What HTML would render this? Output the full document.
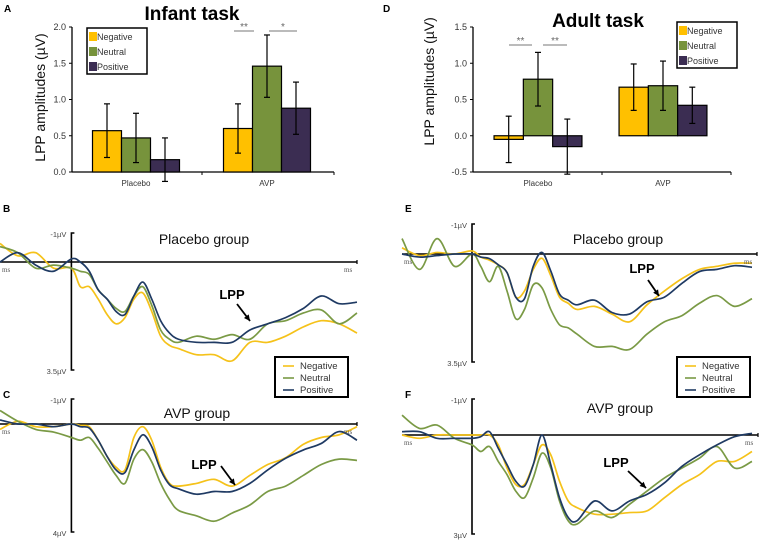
<!DOCTYPE html>
<html><head><meta charset="utf-8"><style>
body{margin:0;background:#fff;}
svg{display:block;font-family:"Liberation Sans",sans-serif;}
</style></head><body>
<svg id="fig" width="760" height="544" viewBox="0 0 760 544" xmlns="http://www.w3.org/2000/svg">
<g id="root"></g>
</svg>
<script>
// ---- Bar chart data ----
const barCategories = ["Placebo", "AVP"];
const seriesNames = ["Negative", "Neutral", "Positive"];
const infantMeans = [[0.57, 0.47, 0.17], [0.60, 1.46, 0.88]];
const infantErrors = [[0.37, 0.34, 0.30], [0.34, 0.43, 0.36]];
const adultMeans = [[-0.05, 0.78, -0.15], [0.67, 0.69, 0.42]];
const adultErrors = [[0.32, 0.37, 0.38], [0.32, 0.34, 0.25]];
const infantTicks = [0.0, 0.5, 1.0, 1.5, 2.0];
const adultTicks = [-0.5, 0.0, 0.5, 1.0, 1.5];
// ---- ERP waveform data (µV, positive plotted downward) ----
const erpTimes = [-200,-150,-100,-50,0,25,50,75,100,125,150,175,200,225,250,275,300,350,400,450,500,550,600,650,700,750,800];
const bNegative = [-0.6,-0.2,-0.3,0.2,0.2,0.8,0.8,1.2,1.7,2.0,1.8,1.2,1.0,1.6,2.4,2.7,2.8,3.0,3.0,3.2,2.6,2.6,2.4,2.1,1.9,2.0,2.3];
const bNeutral = [-0.5,-0.3,0.2,0.1,0.2,0.3,0.4,0.9,1.2,1.5,1.6,1.1,0.8,1.4,2.2,2.5,2.6,2.4,2.5,2.35,2.5,2.0,1.9,1.65,1.55,2.0,1.65];
const bPositive = [0,-0.3,0.1,0.3,-0.1,0,0.3,0.9,1.2,1.6,1.7,1.1,0.65,1.2,1.9,2.3,2.5,2.6,2.6,2.6,2.2,2.0,1.8,1.5,1.1,1.35,1.3];
const cNegative = [0.2,-0.1,0.1,0.1,0,0.05,0.1,0.6,1.2,1.6,1.7,0.5,0.1,0.6,1.6,2.2,2.3,2.2,2.05,2.3,1.9,1.5,1.25,0.75,0.5,0.4,0.1];
const cNeutral = [-0.5,-0.1,0.2,0.3,0.5,0.6,0.5,0.9,1.4,1.9,2.2,1.3,0.95,1.4,2.2,2.8,3.2,3.4,3.6,3.3,3.0,2.5,2.3,1.9,1.5,1.3,1.35];
const cPositive = [-0.15,0,0,0.1,0,0.1,0.15,0.6,1.2,1.7,1.8,0.96,0.4,0.84,1.7,2.25,2.4,2.6,2.5,2.5,2.2,1.7,1.27,0.96,0.72,0.28,0.6];
const eNegative = [-0.2,0.05,-0.05,0,-0.1,0.1,0.2,0.35,0.6,1.4,1.2,0.5,0.14,0.7,1.4,1.6,1.8,1.7,1.95,2.2,1.65,1.2,0.8,0.5,0.4,0.3,0.3];
const eNeutral = [-0.5,0.5,-0.5,0.4,0,0.4,0.9,0.4,1.2,2.1,1.8,1.0,1.1,1.8,2.3,2.4,2.6,3.0,3.0,3.1,2.6,2.2,2.0,1.6,1.35,1.7,1.45];
const ePositive = [0,0.1,0.05,0,0,0.1,0.15,0.35,0.6,1.4,1.45,0.4,-0.05,0.55,1.3,1.5,1.65,1.5,1.9,1.95,1.55,1.4,0.95,0.57,0.5,0.38,0.43];
const fNegative = [0,0.1,0,0,0,0,0,0.3,1.0,1.5,1.5,0.9,0.3,0.6,1.4,2.0,2.2,2.4,2.4,2.35,2.3,1.9,1.5,1.2,0.8,0.8,0.5];
const fNeutral = [-0.6,-0.2,-0.3,0.1,0.3,0.5,0.35,0.8,1.2,1.7,1.9,1.3,0.55,1.0,2.0,2.6,2.7,2.3,2.5,2.1,1.7,1.3,1.0,0.7,0.35,1.0,0.8];
const fPositive = [-0.1,-0.1,0.1,0.1,0.1,0.05,-0.1,0.4,0.9,1.4,1.55,0.9,0.0,0.9,1.9,2.5,2.6,2.0,2.3,2.0,1.8,1.45,0.95,0.6,0.3,0.05,-0.05];

const NS="http://www.w3.org/2000/svg";
const root=document.getElementById('root');
function mk(tag,attrs,parent,txt){const e=document.createElementNS(NS,tag);for(const k in attrs)e.setAttribute(k,attrs[k]);if(txt!==undefined)e.textContent=txt;(parent||root).appendChild(e);return e;}
const barColors=["#ffc000","#77933c","#3b2d52"];
const lineColors=["#f5c21a","#7a9a45","#1f3a63"];

function barChart(o){
  const g=mk('g',{});
  
  
  const y=v=>o.zeroY-(v)*o.ppu;
  const ax=mk('line',{x1:o.ax,y1:y(o.ticks[o.ticks.length-1]),x2:o.ax,y2:y(o.ticks[0]),stroke:'#000','stroke-width':1.3},g);
  
  
  o.ticks.forEach(t=>{
    mk('line',{x1:o.ax-3,y1:y(t),x2:o.ax,y2:y(t),stroke:'#000'},g);
    const tl=mk('text',{x:o.ax-6,y:y(t)+3,'font-size':9,'text-anchor':'end',fill:'#333'},g,t.toFixed(1));
    
    
  });
  const xa=mk('line',{x1:o.ax,y1:o.xAxisY,x2:o.axEnd,y2:o.xAxisY,stroke:'#000','stroke-width':1.3},g);
  
  
  mk('line',{x1:o.mid,y1:o.xAxisY,x2:o.mid,y2:o.xAxisY+3,stroke:'#000'},g);
  mk('line',{x1:o.axEnd,y1:o.xAxisY,x2:o.axEnd,y2:o.xAxisY+3,stroke:'#000'},g);
  barCategories.forEach((c,ci)=>{
    const cl=mk('text',{x:o.centers[ci],y:o.xAxisY+14,'font-size':8,'text-anchor':'middle',fill:'#333'},g,c);
    
    
    seriesNames.forEach((s,si)=>{
      const v=o.means[ci][si], e=o.errs[ci][si];
      const x0=o.centers[ci]+(si-1.5)*o.bw;
      const top=Math.min(y(v),y(0)), h=Math.abs(y(v)-y(0));
      const r=mk('rect',{x:x0,y:top,width:o.bw,height:h,fill:barColors[si],stroke:'#000','stroke-width':1.2},g);
      
      
      const cx=x0+o.bw/2;
      mk('line',{x1:cx,y1:y(v+e),x2:cx,y2:y(v-e),stroke:'#000','stroke-width':1.2},g);
      mk('line',{x1:cx-3,y1:y(v+e),x2:cx+3,y2:y(v+e),stroke:'#000','stroke-width':1.2},g);
      mk('line',{x1:cx-3,y1:y(v-e),x2:cx+3,y2:y(v-e),stroke:'#000','stroke-width':1.2},g);
    });
  });
  const lg=mk('g',{},g);
  
  
  mk('rect',{x:o.legX,y:o.legY,width:60,height:46,fill:'#fff',stroke:'#000','stroke-width':1.5},lg);
  seriesNames.forEach((s,si)=>{
    mk('rect',{x:o.legX+2,y:o.legY+4+si*15,width:8,height:9,fill:barColors[si]},lg);
    const t=mk('text',{x:o.legX+10,y:o.legY+12+si*15,'font-size':9,fill:'#333'},lg,s);
    
    
  });
  const yt=mk('text',{x:0,y:0,'font-size':14,'text-anchor':'middle',fill:'#111',transform:`translate(${o.titleX},${(o.zeroY+y(o.ticks[o.ticks.length-1]))/2+(o.titleShift||0)}) rotate(-90)`},g,'LPP amplitudes  (µV)');
  
  
  return {g,y};
}

const A=barChart({name:'infant-bar-chart',ax:72,axEnd:334,zeroY:172,xAxisY:172,ppu:72.5,ticks:infantTicks,centers:[136,267],mid:202,bw:29,means:infantMeans,errs:infantErrors,legX:87,legY:28,titleShift:-2,titleX:45});
const D=barChart({name:'adult-bar-chart',ax:473,axEnd:731,zeroY:135.75,xAxisY:172,ppu:72.5,ticks:adultTicks,centers:[538,663],mid:602,bw:29.3,means:adultMeans,errs:adultErrors,legX:677,legY:22,titleShift:0,titleX:434});

function sig(x1,x2,yy,label,g){
  mk('line',{x1:x1,y1:yy,x2:x2,y2:yy,stroke:'#777','stroke-width':1},g);
  const t=mk('text',{x:(x1+x2)/2,y:yy-1,'font-size':10,'text-anchor':'middle',fill:'#666'},g,label);
  
  
}
sig(234,254,31,'**',A.g);sig(269,297,31,'*',A.g);
sig(509,532,45,'**',D.g);sig(543,567,45,'**',D.g);

function txt(x,y,s,size,name,extra){const t=mk('text',Object.assign({x:x,y:y,'font-size':size,fill:'#000'},extra||{}),root,s);return t;}
txt(4,12,'A',10,'panel-label-a',{'font-weight':'bold'});
txt(383,12,'D',10,'panel-label-d',{'font-weight':'bold'});
txt(192,20,'Infant task',19,'infant-title',{'font-weight':'bold','text-anchor':'middle'});
txt(598,27,'Adult task',19,'adult-title',{'font-weight':'bold','text-anchor':'middle'});

function erp(o){
  const g=mk('g',{});
  
  
  const X=t=>o.t0+t*o.ppms, Y=v=>o.base+v*o.ppu;
  const h=mk('line',{x1:o.xs,y1:o.base,x2:o.xe,y2:o.base,stroke:'#000','stroke-width':1.6},g);
  
  
  mk('line',{x1:o.xe,y1:o.base-2,x2:o.xe,y2:o.base+2,stroke:'#000','stroke-width':1.2},g);
  const v=mk('path',{d:`M${o.t0+3},${o.vTop} H${o.t0} V${o.vBot} H${o.t0+3}`,fill:'none',stroke:'#000','stroke-width':1.6},g);
  
  
  txt(o.t0-5,o.vTop+4,'-1µV',7.5,'amplitude-top-label',{'text-anchor':'end',fill:'#444'});
  txt(o.t0-5,o.vBot+4,o.botLabel,7.5,'amplitude-bottom-label',{'text-anchor':'end',fill:'#444'});
  txt(o.xs+2,o.base+10,'ms',7,'time-unit-left',{'font-family':'Liberation Serif,serif',fill:'#555'});
  txt(o.xe-13,o.base+10,'ms',7,'time-unit-right',{'font-family':'Liberation Serif,serif',fill:'#555'});
  txt(o.titleX,o.titleY,o.title,14,'group-title',{'text-anchor':'middle',fill:'#111'});
  [o.neg,o.neu,o.pos].forEach((arr,si)=>{
    const pts=erpTimes.map((t,i)=>[X(t),Y(arr[i])]);
    let d=`M${pts[0][0]},${pts[0][1]}`;
    for(let i=0;i<pts.length-1;i++){
      const p0=pts[Math.max(0,i-1)],p1=pts[i],p2=pts[i+1],p3=pts[Math.min(pts.length-1,i+2)];
      const c1=[p1[0]+(p2[0]-p0[0])/6,p1[1]+(p2[1]-p0[1])/6],c2=[p2[0]-(p3[0]-p1[0])/6,p2[1]-(p3[1]-p1[1])/6];
      d+=` C${c1[0]},${c1[1]} ${c2[0]},${c2[1]} ${p2[0]},${p2[1]}`;
    }
    const p=mk('path',{d:d,fill:'none',stroke:lineColors[si],'stroke-width':1.7},g);
    
    
  });
  txt(o.lppX,o.lppY,'LPP',13,'lpp-label',{'font-weight':'bold','text-anchor':'middle'});
  const ar=mk('line',{x1:o.ar[0],y1:o.ar[1],x2:o.ar[2],y2:o.ar[3],stroke:'#000','stroke-width':1.8},g);
  
  
  const ang=Math.atan2(o.ar[3]-o.ar[1],o.ar[2]-o.ar[0]);
  const hx=o.ar[2],hy=o.ar[3];
  mk('polygon',{points:`${hx},${hy} ${hx-6*Math.cos(ang)+3*Math.sin(ang)},${hy-6*Math.sin(ang)-3*Math.cos(ang)} ${hx-6*Math.cos(ang)-3*Math.sin(ang)},${hy-6*Math.sin(ang)+3*Math.cos(ang)}`,fill:'#000'},g);
}
erp({name:'erp-infant-placebo',t0:71.4,ppms:0.357,base:262,ppu:30.9,xs:0,xe:357,vTop:233,vBot:370,botLabel:'3.5µV',title:'Placebo group',titleX:204,titleY:244,neg:bNegative,neu:bNeutral,pos:bPositive,lppX:232,lppY:299,ar:[237,304,250,321]});
erp({name:'erp-infant-avp',t0:71.4,ppms:0.357,base:424,ppu:27,xs:0,xe:357,vTop:399,vBot:532,botLabel:'4µV',title:'AVP group',titleX:197,titleY:418,neg:cNegative,neu:cNeutral,pos:cPositive,lppX:204,lppY:469,ar:[221,466,235,485]});
erp({name:'erp-adult-placebo',t0:472,ppms:0.35,base:254,ppu:30.8,xs:402,xe:757,vTop:224,vBot:362,botLabel:'3.5µV',title:'Placebo group',titleX:618,titleY:244,neg:eNegative,neu:eNeutral,pos:ePositive,lppX:642,lppY:273,ar:[648,280,659,296]});
erp({name:'erp-adult-avp',t0:472,ppms:0.35,base:435,ppu:33,xs:402,xe:758,vTop:399,vBot:534,botLabel:'3µV',title:'AVP group',titleX:620,titleY:413,neg:fNegative,neu:fNeutral,pos:fPositive,lppX:616,lppY:467,ar:[628,471,646,488]});

txt(3,212,'B',10,'panel-label-b',{'font-weight':'bold'});
txt(3,398,'C',10,'panel-label-c',{'font-weight':'bold'});
txt(405,212,'E',10,'panel-label-e',{'font-weight':'bold'});
txt(405,398,'F',10,'panel-label-f',{'font-weight':'bold'});

function erpLegend(x,y,name){
  const g=mk('g',{});
  
  
  mk('rect',{x:x,y:y,width:73,height:40,fill:'#fff',stroke:'#000','stroke-width':2},g);
  seriesNames.forEach((s,si)=>{
    mk('line',{x1:x+8,y1:y+9+si*12,x2:x+19,y2:y+9+si*12,stroke:lineColors[si],'stroke-width':1.6},g);
    const t=mk('text',{x:x+25,y:y+12+si*12,'font-size':9.5,fill:'#333'},g,s);
    
    
  });
}
erpLegend(275,357,'erp-legend-infant');
erpLegend(677,357,'erp-legend-adult');
</script>
</body></html>
